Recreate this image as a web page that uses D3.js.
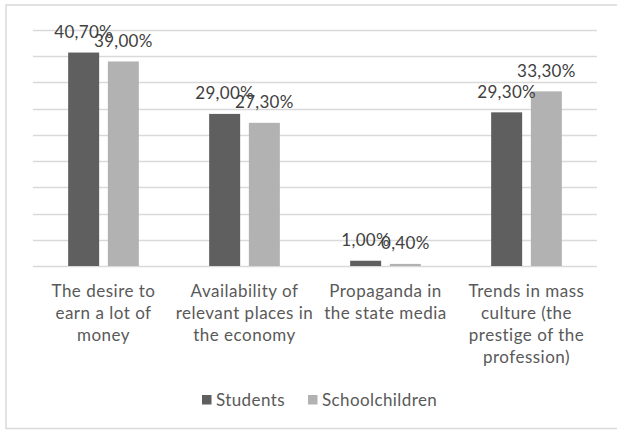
<!DOCTYPE html>
<html>
<head>
<meta charset="utf-8">
<script src="https://cdn.jsdelivr.net/npm/d3@7"></script>
<style>
  html, body { margin: 0; padding: 0; background: #fff; }
  svg { display: block; }
</style>
</head>
<body>
<svg id="chart" width="617" height="430"></svg>
<script>
const categories = [
  ["The desire to", "earn a lot of", "money"],
  ["Availability of", "relevant places in", "the economy"],
  ["Propaganda in", "the state media"],
  ["Trends in mass", "culture (the", "prestige of the", "profession)"]
];
const seriesNames = ["Students", "Schoolchildren"];
const students = [40.7, 29.0, 1.0, 29.3];
const schoolchildren = [39.0, 27.3, 0.4, 33.3];
const yTicks = [0, 5, 10, 15, 20, 25, 30, 35, 40, 45];
const colors = ["#5f5f5f", "#b2b2b2"];

const svg = d3.select("#chart");
const FONT = "Lato, 'Open Sans', sans-serif";

// outer border
svg.append("rect")
  .attr("x", 6).attr("y", 5).attr("width", 620).attr("height", 423.5)
  .attr("fill", "#fff").attr("stroke", "#d9d9d9").attr("stroke-width", 1.5);

const plot = { left: 33, right: 597, top: 30, bottom: 266 };

const x0 = d3.scaleBand()
  .domain(d3.range(categories.length))
  .range([plot.left, plot.right])
  .paddingInner(0).paddingOuter(0);

const y = d3.scaleLinear().domain([0, 45]).range([plot.bottom, plot.top]);

// gridlines
svg.append("g")
  .selectAll("line")
  .data(yTicks)
  .join("line")
  .attr("x1", plot.left).attr("x2", plot.right)
  .attr("y1", d => Math.round(y(d)) + 0.5).attr("y2", d => Math.round(y(d)) + 0.5)
  .attr("stroke", "#d9d9d9").attr("stroke-width", 1.5);

const barW = 31, gap = 8.7;
const data = [students, schoolchildren];
const x1 = d3.scaleBand().domain([0, 1])
  .range([-(barW + gap / 2), barW + gap / 2]).paddingInner(gap / (barW + gap)).paddingOuter(0);

const fmt = v => v.toFixed(2).replace(".", ",") + "%";

data.forEach((vals, s) => {
  svg.append("g").selectAll("rect")
    .data(vals)
    .join("rect")
    .attr("x", (d, i) => x0(i) + x0.bandwidth() / 2 + x1(s))
    .attr("y", d => y(d))
    .attr("width", x1.bandwidth())
    .attr("height", d => y(0) - y(d))
    .attr("fill", colors[s]);
});

// data labels
data.forEach((vals, s) => {
  svg.append("g").selectAll("text")
    .data(vals)
    .join("text")
    .attr("x", (d, i) => x0(i) + x0.bandwidth() / 2 + x1(s) + x1.bandwidth() / 2)
    .attr("y", d => y(d) - 14.5)
    .attr("text-anchor", "middle")
    .attr("font-family", FONT)
    .attr("font-size", 17)
    .attr("letter-spacing", 0.3)
    .attr("fill", "#404040")
    .text(d => fmt(d));
});

// category labels
const catG = svg.append("g");
categories.forEach((lines, i) => {
  const cx = x0(i) + x0.bandwidth() / 2;
  const t = catG.append("text")
    .attr("text-anchor", "middle")
    .attr("font-family", FONT)
    .attr("font-size", 17)
    .attr("letter-spacing", 0.5)
    .attr("fill", "#595959");
  lines.forEach((ln, k) => {
    t.append("tspan")
      .attr("x", cx)
      .attr("y", 297 + k * 22)
      .text(ln);
  });
});

// legend
const legend = svg.append("g");
const legendItems = [
  { name: seriesNames[0], color: colors[0], sx: 202, tx: 216 },
  { name: seriesNames[1], color: colors[1], sx: 308, tx: 322 }
];
legendItems.forEach(it => {
  legend.append("rect")
    .attr("x", it.sx).attr("y", 395).attr("width", 9.5).attr("height", 9.5)
    .attr("fill", it.color);
  legend.append("text")
    .attr("x", it.tx).attr("y", 405.5)
    .attr("font-family", FONT).attr("font-size", 17)
    .attr("letter-spacing", 0.4)
    .attr("fill", "#595959")
    .text(it.name);
});
</script>
</body>
</html>
